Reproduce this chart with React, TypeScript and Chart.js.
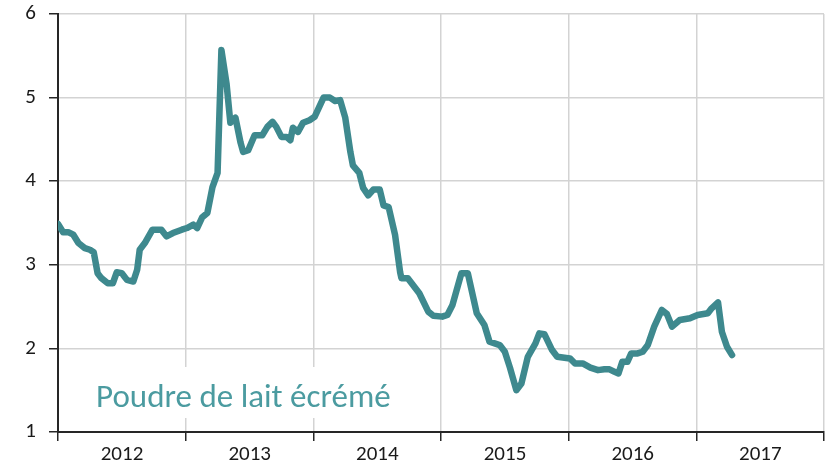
import React, { useEffect, useRef } from "react";
import { Chart, registerables } from "chart.js";

Chart.register(...registerables);

// Decimal years (x) and price values (y)
const dates: number[] = [
  2012.0, 2012.04, 2012.08, 2012.12, 2012.16, 2012.21, 2012.25, 2012.28, 2012.31, 2012.34,
  2012.39, 2012.43, 2012.46, 2012.5, 2012.54, 2012.59, 2012.62, 2012.64, 2012.68, 2012.74,
  2012.81, 2012.85, 2012.9, 2012.97, 2013.01, 2013.06, 2013.09, 2013.13, 2013.17, 2013.21,
  2013.25, 2013.28, 2013.32, 2013.35, 2013.39, 2013.43, 2013.45, 2013.49, 2013.54, 2013.6,
  2013.64, 2013.68, 2013.71, 2013.75, 2013.79, 2013.82, 2013.84, 2013.88, 2013.92, 2013.97,
  2014.01, 2014.08, 2014.13, 2014.17, 2014.21, 2014.25, 2014.29, 2014.31, 2014.36, 2014.39,
  2014.43, 2014.47, 2014.52, 2014.55, 2014.59, 2014.64, 2014.68, 2014.69, 2014.74, 2014.8,
  2014.83, 2014.9, 2014.94, 2015.01, 2015.05, 2015.09, 2015.16, 2015.21, 2015.28, 2015.34,
  2015.38, 2015.46, 2015.5, 2015.54, 2015.59, 2015.63, 2015.68, 2015.74, 2015.77, 2015.81,
  2015.87, 2015.91, 2016.01, 2016.05, 2016.11, 2016.17, 2016.23, 2016.28, 2016.32, 2016.36,
  2016.39, 2016.42, 2016.46, 2016.49, 2016.54, 2016.58, 2016.62, 2016.67, 2016.73, 2016.77,
  2016.81, 2016.87, 2016.95, 2017.01, 2017.09, 2017.12, 2017.17, 2017.2, 2017.24, 2017.28,
];

const prices: number[] = [
  3.49, 3.39, 3.39, 3.36, 3.26, 3.2, 3.18, 3.15, 2.9, 2.84,
  2.78, 2.78, 2.91, 2.9, 2.82, 2.8, 2.94, 3.18, 3.26, 3.42,
  3.42, 3.34, 3.38, 3.42, 3.44, 3.48, 3.44, 3.57, 3.62, 3.93,
  4.1, 5.57, 5.17, 4.7, 4.76, 4.46, 4.35, 4.37, 4.55, 4.55,
  4.65, 4.71, 4.65, 4.53, 4.53, 4.49, 4.64, 4.59, 4.7, 4.73,
  4.77, 5.0, 5.0, 4.96, 4.97, 4.76, 4.35, 4.19, 4.1, 3.92,
  3.83, 3.9, 3.9, 3.71, 3.69, 3.36, 2.91, 2.84, 2.84, 2.72,
  2.66, 2.44, 2.39, 2.38, 2.4, 2.52, 2.9, 2.9, 2.42, 2.28,
  2.08, 2.04, 1.96, 1.77, 1.5, 1.58, 1.9, 2.06, 2.18, 2.17,
  1.98, 1.9, 1.88, 1.82, 1.82, 1.77, 1.74, 1.75, 1.75, 1.72,
  1.7, 1.84, 1.84, 1.94, 1.94, 1.96, 2.04, 2.26, 2.46, 2.41,
  2.26, 2.34, 2.36, 2.4, 2.42, 2.48, 2.55, 2.2, 2.02, 1.92,
];

const yearTicks: number[] = [2012, 2013, 2014, 2015, 2016, 2017, 2018];
const yTicks: number[] = [1, 2, 3, 4, 5, 6];
const seriesLabel = "Poudre de lait écrémé";

const FONT = "Carlito, Lato, 'Open Sans', sans-serif";
const LINE = "#3e898e";
const TEXT_TEAL = "#4b9ba0";
const GRID = "#d3d3d3";
const AXIS = "#262626";

const labelPlugin = {
  id: "seriesLabel",
  beforeDatasetsDraw(chart: any) {
    const { ctx, chartArea } = chart;
    ctx.save();
    ctx.fillStyle = "#ffffff";
    ctx.fillRect(chartArea.left + 32, chartArea.bottom - 65, 312, 51);
    ctx.font = `33px ${FONT}`;
    ctx.fillStyle = TEXT_TEAL;
    ctx.textBaseline = "middle";
    ctx.textAlign = "left";
    ctx.fillText(seriesLabel, chartArea.left + 38, chartArea.bottom - 33);
    ctx.restore();
  },
};

export default function App() {
  const ref = useRef<HTMLCanvasElement | null>(null);
  useEffect(() => {
    if (!ref.current) return;
    const chart = new Chart(ref.current, {
      type: "line",
      data: {
        datasets: [
          {
            label: seriesLabel,
            data: dates.map((d, i) => ({ x: d, y: prices[i] })),
            borderColor: LINE,
            borderWidth: 6.5,
            pointRadius: 0,
            tension: 0,
            borderCapStyle: "round",
            borderJoinStyle: "round",
            fill: false,
          },
        ],
      },
      plugins: [labelPlugin],
      options: {
        animation: false,
        responsive: false,
        maintainAspectRatio: false,
        layout: { padding: { top: 14, right: 5, left: 0, bottom: 0 } },
        plugins: {
          legend: { display: false },
          tooltip: { enabled: false },
        },
        scales: {
          x: {
            type: "linear",
            min: 2012,
            max: 2018,
            afterBuildTicks: (scale: any) => {
              scale.ticks = yearTicks.map((v) => ({ value: v }));
            },
            afterFit: (scale: any) => {
              scale.height = 38;
              scale.paddingLeft = 0;
              scale.paddingRight = 0;
            },
            ticks: {
              callback: (v: any) => (Number(v) >= 2018 ? "" : String(v)),
              labelOffset: 64,
              maxRotation: 0,
              autoSkip: false,
              color: "#1a1a1a",
              font: { family: FONT, size: 21 },
              padding: 1,
            },
            grid: {
              color: GRID,
              lineWidth: 1.5,
              tickColor: AXIS,
              tickLength: 9,
              tickWidth: 1.5,
            },
            border: { color: AXIS, width: 2 },
          },
          y: {
            min: 1,
            max: 6,
            afterBuildTicks: (scale: any) => {
              scale.ticks = yTicks.map((v) => ({ value: v }));
            },
            afterFit: (scale: any) => {
              scale.width = 58;
              scale.paddingTop = 0;
              scale.paddingBottom = 0;
            },
            ticks: {
              color: "#1a1a1a",
              font: { family: FONT, size: 21 },
              padding: 13,
            },
            grid: {
              color: GRID,
              lineWidth: 1.5,
              tickColor: AXIS,
              tickLength: 9,
              tickWidth: 1.5,
            },
            border: { color: AXIS, width: 2 },
          },
        },
      },
    });
    return () => chart.destroy();
  }, []);

  return (
    <div style={{ position: "fixed", left: 0, top: 0, width: 829, height: 470, background: "#fff" }}>
      <canvas ref={ref} width={829} height={470} style={{ width: 829, height: 470 }} />
    </div>
  );
}
